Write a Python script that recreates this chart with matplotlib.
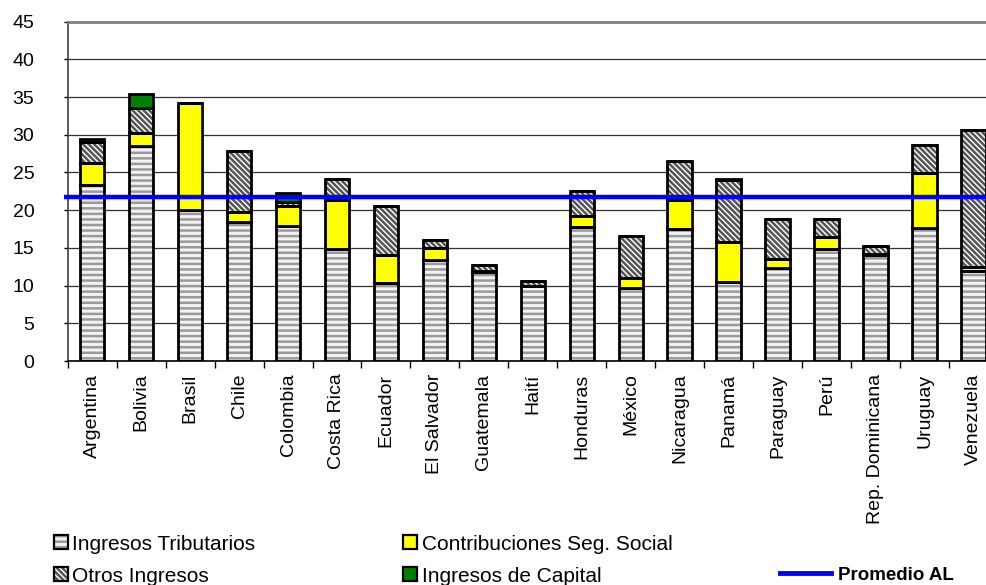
import numpy as np
import matplotlib
matplotlib.use("Agg")
import matplotlib.pyplot as plt
from matplotlib.patches import Rectangle
from matplotlib.lines import Line2D

plt.rcParams['font.family'] = ['Liberation Sans', 'DejaVu Sans']
plt.rcParams['hatch.linewidth'] = 1.8

# datos (% del PIB)
paises = ["Argentina", "Bolivia", "Brasil", "Chile", "Colombia", "Costa Rica",
          "Ecuador", "El Salvador", "Guatemala", "Haití", "Honduras", "México",
          "Nicaragua", "Panamá", "Paraguay", "Perú", "Rep. Dominicana",
          "Uruguay", "Venezuela"]
tributarios = [23.3, 28.5, 20.0, 18.4, 17.9, 14.9, 10.3, 13.4, 11.8, 9.9,
               17.8, 9.7, 17.5, 10.5, 12.3, 14.8, 14.0, 17.7, 11.9]
contribuciones = [3.0, 1.8, 14.2, 1.3, 2.7, 6.5, 3.8, 1.6, 0.2, 0.0,
                  1.4, 1.3, 3.8, 5.3, 1.2, 1.6, 0.2, 7.2, 0.6]
otros = [2.7, 3.3, 0.0, 8.1, 0.5, 2.8, 6.5, 1.1, 0.7, 0.7,
         3.4, 5.6, 5.2, 8.2, 5.3, 2.4, 1.0, 3.8, 18.2]
capital = [0.4, 1.8, 0.0, 0.0, 1.2, 0.0, 0.0, 0.0, 0.0, 0.0,
           0.0, 0.0, 0.0, 0.1, 0.0, 0.0, 0.0, 0.0, 0.0]
promedio_al = 21.7

W, H = 986, 585
fig = plt.figure(figsize=(W / 100, H / 100), dpi=100)
ax = fig.add_axes([67.7 / W, (H - 361) / H, (998 - 67.7) / W, 339.3 / H])

HATCH_DIAG = "\\" * 6
x = np.arange(len(paises))
series = [
    (tributarios, "#f2f2f2", "#9a9a9a", "---"),
    (contribuciones, "#ffff00", None, None),
    (otros, "white", "#555555", HATCH_DIAG),
    (capital, "#008000", None, None),
]
base = np.zeros(len(paises))
for vals, face, hcol, hatch in series:
    vals = np.array(vals)
    if hatch:
        ax.bar(x, vals, 0.5, bottom=base, facecolor=face, edgecolor=hcol,
               hatch=hatch, linewidth=0, zorder=2)
    else:
        ax.bar(x, vals, 0.5, bottom=base, facecolor=face, linewidth=0, zorder=2)
    ax.bar(x, vals, 0.5, bottom=base, fill=False, edgecolor="black",
           linewidth=2, zorder=3)
    base = base + vals

ax.hlines(promedio_al, -0.58, 18.6, color="#0000ff", lw=3.2, zorder=4, clip_on=False)

ax.set_xlim(-0.5, 18.5)
ax.set_ylim(0, 45)
ax.set_yticks(range(0, 50, 5))
ax.yaxis.grid(True, color="#333333", lw=0.9)
ax.set_axisbelow(True)
ax.set_xticks(x)
ax.set_xticklabels(paises, rotation=90, va="top", ha="center")
ax.set_xticks(np.arange(-0.5, 19, 1), minor=True)
ax.tick_params(axis="x", which="major", length=0, pad=9, labelsize=14)
ax.tick_params(axis="x", which="minor", length=5, width=1, direction="out")
ax.tick_params(axis="y", length=3, width=1, pad=21, labelsize=14)
for lab in ax.get_yticklabels():
    lab.set_horizontalalignment("right")

ax.spines["right"].set_visible(False)
ax.spines["top"].set_color("#808080")
ax.spines["top"].set_linewidth(2)
ax.spines["left"].set_color("#404040")
ax.spines["left"].set_linewidth(1.2)
ax.spines["bottom"].set_color("black")
ax.spines["bottom"].set_linewidth(1.2)

# leyenda manual
def caja(px, py, face, hcol=None, hatch=None):
    r = Rectangle((px / W, 1 - (py + 7) / H), 14 / W, 14 / H,
                  transform=fig.transFigure, facecolor=face,
                  edgecolor=hcol if hcol else "black",
                  hatch=hatch, linewidth=0)
    fig.add_artist(r)
    fig.add_artist(Rectangle((px / W, 1 - (py + 7) / H), 14 / W, 14 / H,
                             transform=fig.transFigure, fill=False,
                             edgecolor="black", linewidth=1.6))

def texto(px, py, s, **kw):
    fig.text(px / W, 1 - py / H, s, va="baseline", ha="left", **kw)

caja(54, 542, "#f2f2f2", "#9a9a9a", "---")
texto(72, 550, "Ingresos Tributarios", fontsize=15)
caja(54, 574, "white", "#555555", HATCH_DIAG)
texto(72, 582, "Otros Ingresos", fontsize=15)
caja(403, 542, "#ffff00")
texto(422, 550, "Contribuciones Seg. Social", fontsize=15)
caja(403, 574, "#008000")
texto(422, 582, "Ingresos de Capital", fontsize=15)
fig.add_artist(Line2D([780 / W, 831 / W], [1 - 573 / H, 1 - 573 / H],
                      transform=fig.transFigure, color="#0000ff", lw=3.5))
texto(838, 580, "Promedio AL", fontsize=13.5, fontweight="bold")

fig.savefig("out.png", dpi=100)
